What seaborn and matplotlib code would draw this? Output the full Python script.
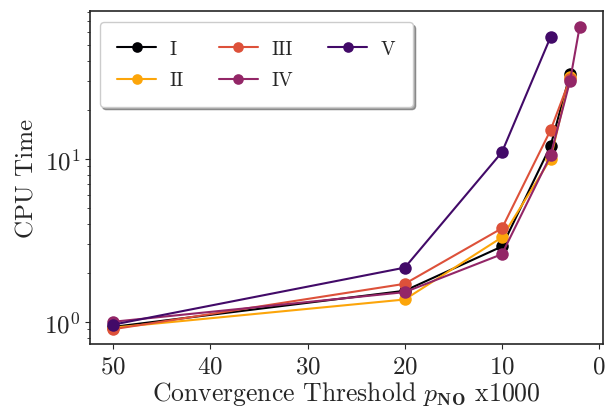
import seaborn as sns
import numpy as np
import pandas as pd
import matplotlib as mpl
import matplotlib.pyplot as plt

# thresholds (x1000) and CPU times
thr_short = [50, 20, 10, 5, 3]
thr_long = [50, 20, 10, 5, 3, 2]

cpu_I = [0.93, 1.55, 2.9, 12.0, 33.0]
cpu_II = [0.92, 1.37, 3.3, 10.0, 32.0]
cpu_III = [0.90, 1.71, 3.75, 15.0, 31.0]
cpu_IV = [1.0, 1.52, 2.6, 10.5, 30.0, 65.0]
cpu_V = [0.96, 2.15, 11.0, 56.0]
thr_V = [50, 20, 10, 5]

labels = ["I", "II", "III", "IV", "V"]

sns.set_style("ticks")
mpl.rc('font', family='serif', size=18)
plt.rcParams['font.serif'] = ['cmr10', 'DejaVu Serif']
plt.rcParams['mathtext.fontset'] = 'cm'
plt.rcParams['axes.formatter.use_mathtext'] = True
plt.rcParams['axes.unicode_minus'] = False

frames = [
    pd.DataFrame({"thr": thr_short, "cpu": cpu_I, "run": "I"}),
    pd.DataFrame({"thr": thr_short, "cpu": cpu_II, "run": "II"}),
    pd.DataFrame({"thr": thr_short, "cpu": cpu_III, "run": "III"}),
    pd.DataFrame({"thr": thr_long, "cpu": cpu_IV, "run": "IV"}),
    pd.DataFrame({"thr": thr_V, "cpu": cpu_V, "run": "V"}),
]
df = pd.concat(frames, ignore_index=True)

cmap = plt.get_cmap('inferno')
pal = {"I": cmap(0.0), "II": cmap(0.8), "III": cmap(0.6),
       "IV": cmap(0.4), "V": cmap(0.2)}

fig = plt.figure(figsize=(6.06, 4.10), dpi=100)
ax = fig.add_axes([90/606, 1 - 345/410, (603-90)/606, (345-12)/410])

sns.lineplot(data=df, x="thr", y="cpu", hue="run", hue_order=labels,
             palette=pal, marker="o", markersize=9, markeredgewidth=0,
             linewidth=1.5, sort=False, estimator=None, ax=ax)

ax.set_yscale('log')
ax.set_xlim(52.4, -0.4)
ax.set_ylim(0.73, 81)
ax.set_xticks([50, 40, 30, 20, 10, 0])
ax.set_xlabel(r"Convergence Threshold $p_{\mathbf{NO}}$ x1000", fontsize=18.5,
              labelpad=0.5)
ax.set_ylabel("CPU Time", fontsize=18)
ax.tick_params(labelsize=18)
ax.tick_params(axis='x', pad=5)
for sp in ax.spines.values():
    sp.set_linewidth(1.2)

handles, labs = ax.get_legend_handles_labels()
ax.legend(handles, labs, ncol=3, loc='upper left', fontsize=14,
          frameon=True, shadow=True, fancybox=True, markerscale=0.85,
          bbox_to_anchor=(0.0, 0.995), borderpad=0.9, labelspacing=0.7,
          handletextpad=0.7, columnspacing=1.8)

fig.savefig('out.png', dpi=100)
